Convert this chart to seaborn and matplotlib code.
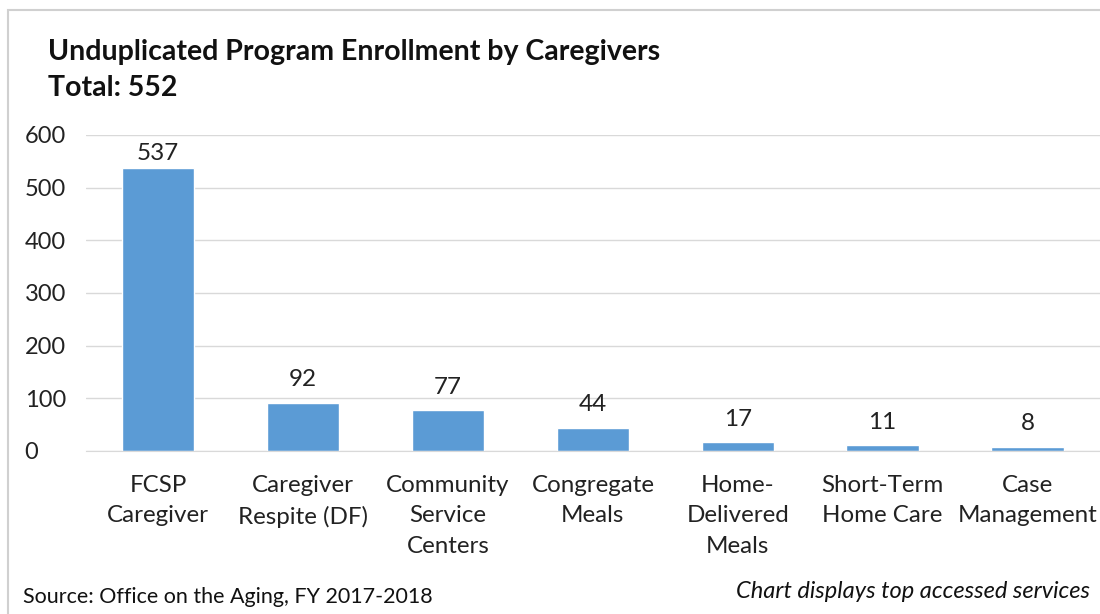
import matplotlib
matplotlib.use('Agg')
import matplotlib.pyplot as plt
import seaborn as sns
import pandas as pd
from matplotlib.patches import Rectangle

services = ['FCSP\nCaregiver', 'Caregiver\nRespite (DF)', 'Community\nService\nCenters',
            'Congregate\nMeals', 'Home-\nDelivered\nMeals', 'Short-Term\nHome Care', 'Case\nManagement']
enrollment = [537, 92, 77, 44, 17, 11, 8]
yticks = [0, 100, 200, 300, 400, 500, 600]

data = pd.DataFrame({'Service': services, 'Enrollment': enrollment})

sns.set_style('white')
plt.rcParams['font.family'] = ['Lato', 'DejaVu Sans']

fig = plt.figure(figsize=(11, 6.14), dpi=100)
ax = fig.add_axes([0.078, 0.2655, 0.922, 0.5147])

sns.barplot(data=data, x='Service', y='Enrollment', color='#5B9BD5', width=0.5,
            saturation=1, ax=ax)
labels = ax.bar_label(ax.containers[0], fontsize=17.5, padding=9, color='#222222')
# the tallest label sits closer to its bar (near the top of the plot area)
labels[0].xyann = (0, 3)

ax.set_ylim(0, 600)
ax.set_xlim(-0.5, 6.5)
ax.set_yticks(yticks)
ax.yaxis.grid(True, color='#D9D9D9', linewidth=1)
ax.set_axisbelow(True)
for s in ['top', 'right', 'left']:
    ax.spines[s].set_visible(False)
ax.spines['bottom'].set_color('#D9D9D9')
ax.tick_params(axis='both', length=0, colors='#222222')
ax.tick_params(axis='x', pad=17, labelsize=17.4)
ax.tick_params(axis='y', pad=44, labelsize=17)
for lbl in ax.get_yticklabels():
    lbl.set_horizontalalignment('left')
for lbl in ax.get_xticklabels():
    lbl.set_linespacing(1.57)
ax.set_xlabel('')
ax.set_ylabel('')

fig.text(0.044, 0.915, 'Unduplicated Program Enrollment by Caregivers', fontsize=20.5,
         fontweight='bold', color='#111111', va='center')
fig.text(0.044, 0.857, 'Total: 552', fontsize=20.5, fontweight='bold', color='#111111', va='center')
fig.text(0.021, 0.027, 'Source: Office on the Aging, FY 2017-2018', fontsize=15.5,
         color='#111111', va='center')
fig.text(0.991, 0.037, 'Chart displays top accessed services', fontsize=17, style='italic',
         color='#111111', va='center', ha='right')

fig.patches.append(Rectangle((0.007, -0.01), 1.0, 0.994, transform=fig.transFigure,
                             fill=False, edgecolor='#D0D0D0', linewidth=1.5))

fig.savefig('out.png', dpi=100)
